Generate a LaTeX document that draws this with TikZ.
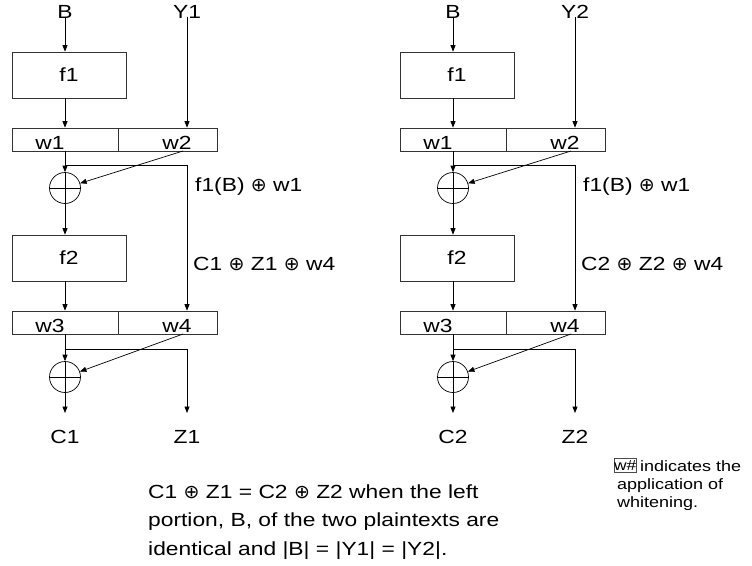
\documentclass[tikz,border=0pt]{standalone}
\usepackage{fontspec}
\setmainfont[FakeStretch=1.2]{Liberation Sans}
\newfontfamily\symf{DejaVu Sans}
\usetikzlibrary{arrows.meta}
\newcommand{\bigf}{\fontsize{19}{22}\selectfont}
\newcommand{\notef}{\fontsize{15}{18}\selectfont}
\newcommand{\xo}{{\fontsize{19}{22}\symf\raisebox{-0.3pt}{⊕}}}
\begin{document}
\begin{tikzpicture}[x=1pt,y=-1pt,
  lbl/.style={font=\bigf, inner sep=0pt},
  fbox/.style={draw=black!80, minimum width=114pt, minimum height=46pt, inner sep=0pt, line width=0.7pt, font=\bigf},
  cell/.style={draw=black!80, minimum height=23pt, inner sep=0pt, line width=0.7pt},
  xorc/.style={draw, circle, minimum size=31pt, inner sep=0pt, line width=0.7pt},
  arr/.style={-{Triangle[length=6.5pt,width=5pt]}, line width=0.7pt},
  ln/.style={line width=0.7pt}]
\useasboundingbox (0,0) rectangle (752,565);
\foreach \o/\k in {0/1, 388/2} {
\begin{scope}[xshift=\o pt]
  \node[lbl] (B\k) at (65,12) {B};
  \node[lbl] (Y\k) at (187,12) {Y\k};
  \node[fbox] (fa\k) at (69,75) {f1};
  \node[cell, minimum width=106pt] (wa\k) at (65,139.5) {};
  \node[cell, minimum width=99pt] (wb\k) at (167.5,139.5) {};
  \node[lbl, anchor=base] (wal\k) at (50,149.5) {w1};
  \node[lbl, anchor=base] (wbl\k) at (177,149.5) {w2};
  \coordinate (s\k) at (65,165);
  \coordinate (t\k) at (187,165);
  \coordinate (d\k) at (183,151);
  \node[xorc] (xa\k) at (65,188) {};
  \draw[ln] (xa\k.north) -- (xa\k.south) (xa\k.west) -- (xa\k.east);
  \node[fbox] (fb\k) at (69,258) {f2};
  \node[cell, minimum width=106pt] (wc\k) at (65,322.5) {};
  \node[cell, minimum width=99pt] (wd\k) at (167.5,322.5) {};
  \node[lbl, anchor=base] (wcl\k) at (50,332.5) {w3};
  \node[lbl, anchor=base] (wdl\k) at (177,332.5) {w4};
  \coordinate (u\k) at (65,349);
  \coordinate (v\k) at (187,349);
  \coordinate (e\k) at (183,334);
  \node[xorc] (xb\k) at (65,377) {};
  \draw[ln] (xb\k.north) -- (xb\k.south) (xb\k.west) -- (xb\k.east);
  \coordinate (ce\k) at (65,413);
  \coordinate (ze\k) at (187,413);
  \node[lbl] (C\k) at (65,437) {C\k};
  \node[lbl] (Z\k) at (187,437) {Z\k};
  \node[lbl, anchor=base west] (la\k) at (195,191) {f1(B) \xo\ w1};
  \node[lbl, anchor=base west] (lb\k) at (193,270) {C\k\ \xo\ Z\k\ \xo\ w4};
  % connectors
  \draw[arr] ([yshift=2pt]B\k.south) -- (B\k.south |- fa\k.north);
  \draw[arr] (B\k.south |- fa\k.south) -- (B\k.south |- wa\k.north);
  \draw[arr] ([yshift=2pt]Y\k.south) -- (Y\k.south |- wb\k.north);
  \draw[arr] (B\k.south |- wa\k.south) -- (xa\k.north);
  \draw[arr] (s\k) -- (t\k) -- (t\k |- wd\k.north);
  \draw[arr] (d\k) -- (xa\k);
  \draw[arr] (xa\k.south) -- (xa\k.south |- fb\k.north);
  \draw[arr] (B\k.south |- fb\k.south) -- (B\k.south |- wc\k.north);
  \draw[arr] (B\k.south |- wc\k.south) -- (xb\k.north);
  \draw[arr] (u\k) -- (v\k) -- (ze\k);
  \draw[arr] (e\k) -- (xb\k);
  \draw[arr] (xb\k.south) -- (ce\k);
\end{scope}
}
\node[lbl, anchor=base west] (n1) at (148,498) {C1 \xo\ Z1 = C2 \xo\ Z2 when the left};
\node[lbl, anchor=base west] (n2) at (148,526.5) {portion, B, of the two plaintexts are};
\node[lbl, anchor=base west] (n3) at (148,555) {identical and |B| = |Y1| = |Y2|.};
\node[draw=black!70, line width=0.6pt, inner xsep=0.3pt, inner ysep=2pt, font=\fontsize{14.5}{17}\selectfont, anchor=base west] (wh) at (613.5,470) {w\#};
\node[inner sep=0pt, font=\notef, anchor=base west] (m1) at (640,471) {indicates the};
\node[inner sep=0pt, font=\notef, anchor=base west] (m2) at (617,489) {application of};
\node[inner sep=0pt, font=\notef, anchor=base west] (m3) at (617,507) {whitening.};
\end{tikzpicture}
\end{document}
